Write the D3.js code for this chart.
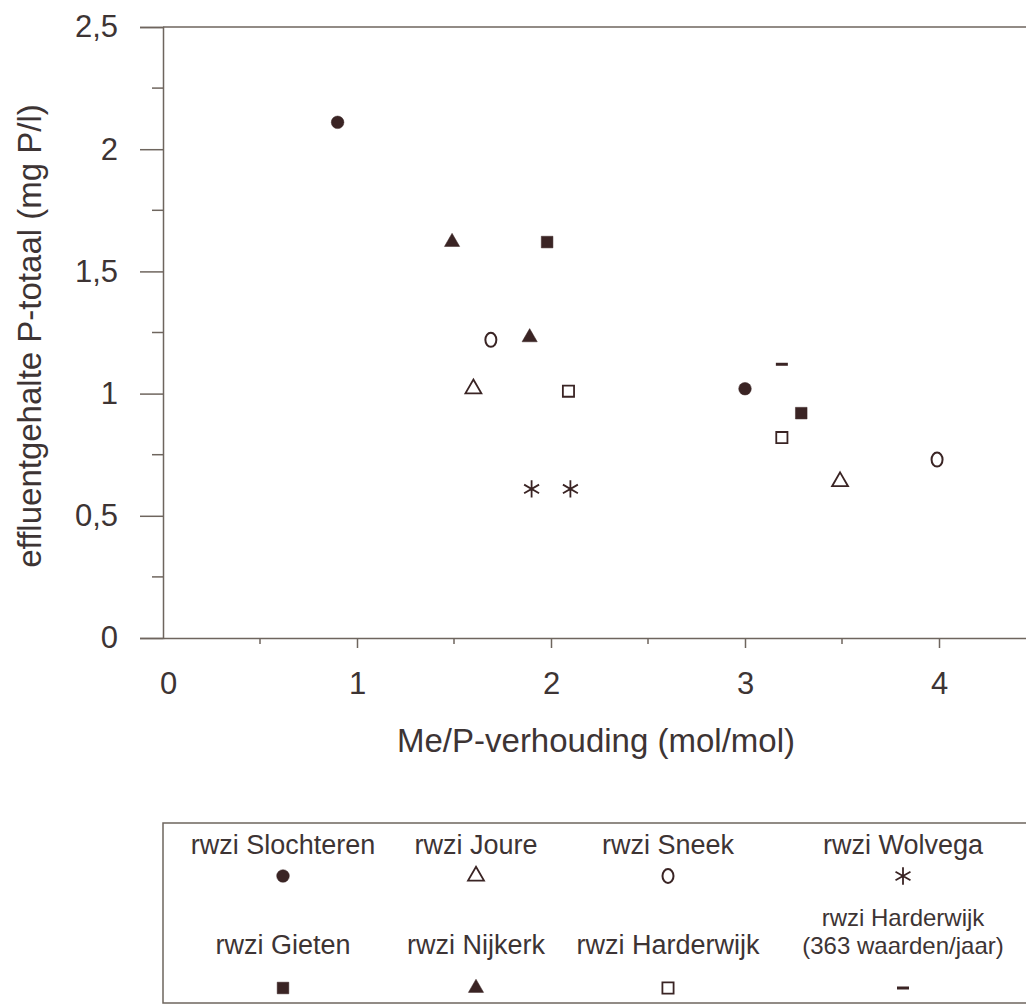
<!DOCTYPE html>
<html>
<head>
<meta charset="utf-8">
<script src="https://cdn.jsdelivr.net/npm/d3@7"></script>
<style>
  body { margin: 0; background: #fff; }
  svg { display: block; font-family: "Liberation Sans", Arial, sans-serif; }
  .axis text { fill: #3d3434; }
</style>
</head>
<body>
<svg id="chart" width="1026" height="1007"></svg>
<script>
// series values: Me/P ratio (x) and effluent P-total (y)
var slochterenX = [0.9, 3.0],   slochterenY = [2.11, 1.02];
var joureX      = [1.6, 3.49],  joureY      = [1.02, 0.64];
var sneekX      = [1.69, 3.99], sneekY      = [1.22, 0.73];
var wolvegaX    = [1.9, 2.1],   wolvegaY    = [0.61, 0.61];
var gietenX     = [1.98, 3.29], gietenY     = [1.62, 0.92];
var nijkerkX    = [1.49, 1.89], nijkerkY    = [1.62, 1.23];
var harderX     = [2.09, 3.19], harderY     = [1.01, 0.82];
var harder363X  = [3.19],       harder363Y  = [1.12];

var xTicks = [0, 1, 2, 3, 4];
var yTicks = [0, 0.5, 1, 1.5, 2, 2.5];

var seriesNames = [
  ['rwzi Slochteren'], ['rwzi Joure'], ['rwzi Sneek'], ['rwzi Wolvega'],
  ['rwzi Gieten'], ['rwzi Nijkerk'], ['rwzi Harderwijk'], ['rwzi Harderwijk', '(363 waarden/jaar)']
];

var ink = '#3a2424', lineCol = '#6e655e', textCol = '#3d3434';

// marker styles per series
var markers = [
  {type: d3.symbolCircle,   size: 125, fill: true},
  {type: d3.symbolTriangle, size: 110, fill: false},
  {type: 'oval',            fill: false},
  {type: d3.symbolAsterisk, size: 210, fill: false},
  {type: d3.symbolSquare,   size: 135, fill: true},
  {type: d3.symbolTriangle, size: 100, fill: true},
  {type: d3.symbolSquare,   size: 125, fill: false},
  {type: 'dash'}
];

var series = [
  [slochterenX, slochterenY], [joureX, joureY], [sneekX, sneekY], [wolvegaX, wolvegaY],
  [gietenX, gietenY], [nijkerkX, nijkerkY], [harderX, harderY], [harder363X, harder363Y]
].map(function(s, i) {
  return {name: seriesNames[i], marker: markers[i],
          points: s[0].map(function(v, j) { return {x: v, y: s[1][j]}; })};
});

var svg = d3.select('#chart');

var x = d3.scaleLinear().domain([0, 4.5]).range([163, 1036]);
var y = d3.scaleLinear().domain([0, 2.5]).range([638, 27]);

function drawMarker(g, m) {
  if (m.type === 'oval') {
    g.append('ellipse').attr('rx', 5.5).attr('ry', 7)
      .attr('fill', 'none').attr('stroke', ink).attr('stroke-width', 2);
  } else if (m.type === 'dash') {
    g.append('rect').attr('x', -6).attr('y', -1.5).attr('width', 12).attr('height', 3)
      .attr('fill', ink);
  } else {
    g.append('path').attr('d', d3.symbol().type(m.type).size(m.size)())
      .attr('fill', m.fill ? ink : 'none')
      .attr('stroke', ink)
      .attr('stroke-width', m.fill ? 0.5 : 1.8);
  }
}

// frame
svg.append('line').attr('x1', x(0)).attr('x2', 1026).attr('y1', y(2.5)).attr('y2', y(2.5))
  .attr('stroke', lineCol).attr('stroke-width', 1.5);

// y axis: major ticks outward, minor ticks in between
var yAxis = d3.axisLeft(y).tickValues(yTicks).tickSize(23).tickPadding(22)
  .tickFormat(function(d) { return String(d).replace('.', ','); });
var yg = svg.append('g').attr('class', 'axis').attr('transform', 'translate(' + x(0) + ',0)').call(yAxis);
yg.select('.domain').attr('stroke', lineCol).attr('stroke-width', 1.5);
yg.selectAll('.tick line').attr('stroke', lineCol).attr('stroke-width', 1.5);
yg.selectAll('.tick text').attr('font-size', 31).attr('fill', textCol);
yg.selectAll('.minor').data(d3.range(0.25, 2.5, 0.5)).enter().append('line')
  .attr('x1', -11).attr('x2', 0).attr('y1', function(d) { return y(d); }).attr('y2', function(d) { return y(d); })
  .attr('stroke', lineCol).attr('stroke-width', 1.5);

// x axis
var xAxis = d3.axisBottom(x).tickValues(xTicks).tickSize(10).tickPadding(24).tickSizeOuter(0)
  .tickFormat(d3.format('d'));
var xg = svg.append('g').attr('class', 'axis').attr('transform', 'translate(0,' + y(0) + ')').call(xAxis);
xg.select('.domain').attr('stroke', lineCol).attr('stroke-width', 1.5);
xg.selectAll('.tick line').attr('stroke', lineCol).attr('stroke-width', 1.5)
  .attr('display', function(d) { return d === 0 ? 'none' : null; });
xg.selectAll('.tick text').attr('font-size', 31).attr('fill', textCol)
  .attr('dx', function(d) { return d === 0 ? 5 : 0; });
xg.selectAll('.minor').data([0.5, 1.5, 2.5, 3.5]).enter().append('line')
  .attr('x1', function(d) { return x(d); }).attr('x2', function(d) { return x(d); })
  .attr('y1', 0).attr('y2', 6)
  .attr('stroke', lineCol).attr('stroke-width', 1.5);

// axis titles
svg.append('text').attr('x', 596).attr('y', 752).attr('text-anchor', 'middle')
  .attr('font-size', 33).attr('fill', textCol).text('Me/P-verhouding (mol/mol)');
svg.append('text').attr('transform', 'translate(41,336) rotate(-90)').attr('text-anchor', 'middle')
  .attr('font-size', 33).attr('fill', textCol).text('effluentgehalte P-totaal (mg P/l)');

// points
series.forEach(function(s) {
  svg.append('g').selectAll('g').data(s.points).enter().append('g')
    .attr('transform', function(d) { return 'translate(' + x(d.x) + ',' + y(d.y) + ')'; })
    .each(function() { drawMarker(d3.select(this), s.marker); });
});

// legend
var legend = svg.append('g');
legend.append('rect').attr('x', 163).attr('y', 823).attr('width', 900).attr('height', 180)
  .attr('fill', 'none').attr('stroke', lineCol).attr('stroke-width', 1.5);
var colX = [283, 476, 668, 903];
series.forEach(function(s, i) {
  var row = Math.floor(i / 4), cx = colX[i % 4];
  var g = legend.append('g');
  var base = row === 0 ? 854 : 954;
  var fs = 27, lh = 0;
  if (s.name.length > 1) { base = 926; fs = 24; lh = 28; }
  s.name.forEach(function(t, k) {
    g.append('text').attr('x', cx).attr('y', base + k * lh).attr('text-anchor', 'middle')
      .attr('font-size', fs).attr('fill', textCol).text(t);
  });
  var mg = g.append('g').attr('transform', 'translate(' + cx + ',' + (row === 0 ? 876 : 988) + ')');
  drawMarker(mg, s.marker);
});
</script>
</body>
</html>
